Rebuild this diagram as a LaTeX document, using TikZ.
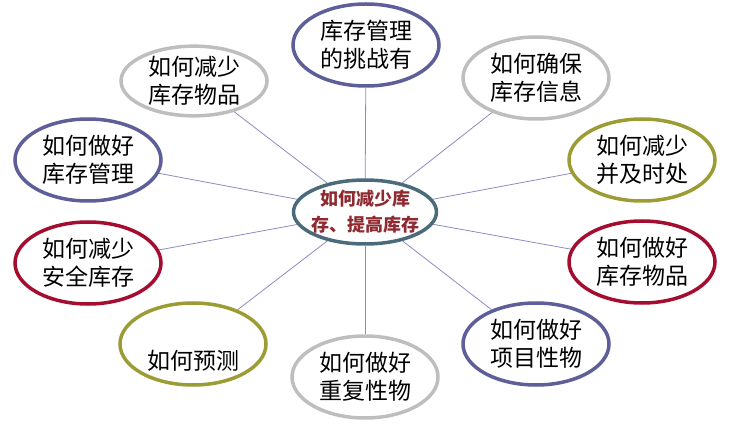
\documentclass[tikz,border=0pt]{standalone}
\usepackage{fontspec}
\newfontfamily\cjk{Noto Sans CJK SC}
\usetikzlibrary{shapes.geometric}
\definecolor{rimnavy}{HTML}{5E5E98}
\definecolor{rimgray}{HTML}{BEBEBE}
\definecolor{rimolive}{HTML}{9C9C34}
\definecolor{rimred}{HTML}{A50D30}
\definecolor{rimteal}{HTML}{4B6B7A}
\definecolor{spokecol}{HTML}{8C8CBE}
\definecolor{hubtext}{HTML}{8E2A30}
\begin{document}
\begin{tikzpicture}[x=1pt, y=-1pt,
        bubble/.style={ellipse, line width=3.5pt, minimum width=146pt, minimum height=82pt,
            inner sep=0pt, align=center, font=\cjk\fontsize{23}{28}\selectfont},
        spoke/.style={draw=spokecol, line width=0.8pt}]
            \useasboundingbox (0, 0) rectangle (746, 427);

            % centre
            \node[bubble, draw=rimteal, minimum width=143pt, minimum height=64pt, inner xsep=-16pt,
                text=hubtext, font=\cjk\bfseries\fontsize{18}{26}\selectfont] (hub) at (365, 212) {如何减少库\\存、提高库存};

            % ring, clockwise from the top
            \node[bubble, draw=rimnavy]  (challenge) at (366, 45)  {库存管理\\的挑战有};
            \node[bubble, draw=rimgray]  (ensure)    at (536, 78)  {如何确保\\库存信息};
            \node[bubble, draw=rimolive] (timely)    at (642, 160) {如何减少\\并及时处};
            \node[bubble, draw=rimred]   (goods)     at (642, 262) {如何做好\\库存物品};
            \node[bubble, draw=rimnavy]  (project)   at (536, 344) {如何做好\\项目性物};
            \node[bubble, draw=rimgray]  (repeat)    at (365, 377) {如何做好\\重复性物};
            \node[bubble, draw=rimolive] (forecast)  at (193, 344) {\rule{0pt}{24pt}\\如何预测};
            \node[bubble, draw=rimred]   (safety)    at (88, 263)  {如何减少\\安全库存};
            \node[bubble, draw=rimnavy]  (manage)    at (88, 160)  {如何做好\\库存管理};
            \node[bubble, draw=rimgray, minimum height=64pt] (lessgoods) at (194, 81) {如何减少\\库存物品};

            \foreach \n in {challenge, ensure, timely, goods, project, repeat, forecast, safety, manage, lessgoods}
                \draw[spoke] (hub) -- (\n);
        \end{tikzpicture}
\end{document}
